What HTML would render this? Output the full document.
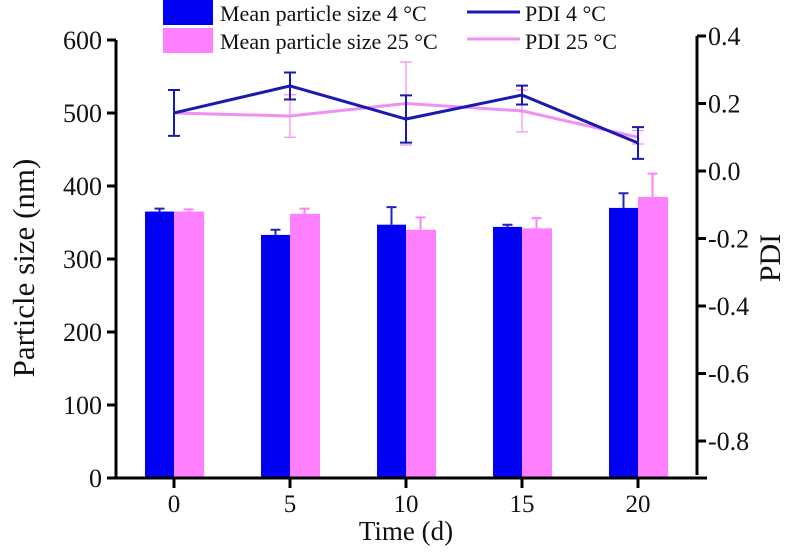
<!DOCTYPE html>
<html><head><meta charset="utf-8"><style>
body{margin:0;background:#fff}
svg text{font-family:"Liberation Serif",serif;fill:#111}
</style></head><body>
<svg id="chart" width="791" height="551" xmlns="http://www.w3.org/2000/svg"></svg>
<script>
const categories=[0,5,10,15,20];
const size4=[365,333,347,344,370];
const size4Err=[4,7,24,3,20];
const size25=[365,362,340,342,385];
const size25Err=[3,7,17,14,32];
const pdi4=[0.172,0.252,0.154,0.225,0.083];
const pdi4Err=[0.068,0.04,0.07,0.028,0.047];
const pdi25=[0.172,0.163,0.2,0.178,0.1];
const pdi25Err=[0,0.063,0.123,0.062,0.02];
const leftTicks=[0,100,200,300,400,500,600];
const rightTicks=[0.4,0.2,0.0,-0.2,-0.4,-0.6,-0.8];
const rightLabels=["0.4","0.2","0.0","-0.2","-0.4","-0.6","-0.8"];

const svg=document.getElementById('chart');
const NS='http://www.w3.org/2000/svg';
function mk(t,a,parent){const e=document.createElementNS(NS,t);for(const k in a)e.setAttribute(k,a[k]);(parent||svg).appendChild(e);return e;}
const xS=v=>174+v*116/5;
const yL=v=>478-v*0.73;
const yR=v=>171-v*337.5;
const BW=29;

categories.forEach((c,i)=>{
  const x=xS(c);
  let b=mk('rect',{x:x-BW,y:yL(size4[i]),width:BW,height:478-yL(size4[i]),fill:'#0000f5'});
  
  
  let e=mk('path',{d:`M${x-BW/2} ${yL(size4[i])}V${yL(size4[i]+size4Err[i])}M${x-BW/2-5} ${yL(size4[i]+size4Err[i])}h10`,stroke:'#2020c0','stroke-width':2,fill:'none'});
  
  
  let p=mk('rect',{x:x,y:yL(size25[i]),width:BW+1,height:478-yL(size25[i]),fill:'#ff80ff'});
  
  
  let e2=mk('path',{d:`M${x+BW/2} ${yL(size25[i])}V${yL(size25[i]+size25Err[i])}M${x+BW/2-5} ${yL(size25[i]+size25Err[i])}h10`,stroke:'#ff80ff','stroke-width':2,fill:'none'});
  
  
});

function line(vals,errs,color,name,ew){
  categories.forEach((c,i)=>{
    if(!errs[i])return;
    const x=xS(c),t=yR(vals[i]+errs[i]),b=yR(vals[i]-errs[i]);
    let e=mk('path',{d:`M${x} ${t}V${b}M${x-6} ${t}h12M${x-6} ${b}h12`,stroke:color,'stroke-width':ew,fill:'none'});
    
    
  });
  let l=mk('polyline',{points:categories.map((c,i)=>xS(c)+','+yR(vals[i])).join(' '),stroke:color,'stroke-width':3,fill:'none'});
  
  
}
line(pdi25,pdi25Err,'#f090f0','pdi-25c',1.2);
line(pdi4,pdi4Err,'#1a1ab0','pdi-4c',2);

let ax=mk('path',{d:'M116 40V478H707',stroke:'#000','stroke-width':3,fill:'none'});


let ar=mk('path',{d:'M697 36V475',stroke:'#000','stroke-width':3,fill:'none'});


leftTicks.forEach(v=>{
  const y=yL(v);
  let t=mk('path',{d:`M107 ${y}H116`,stroke:'#000','stroke-width':3});
  
  
  let tx=mk('text',{x:102,y:y+9,'text-anchor':'end','font-size':26});
  tx.textContent=v;
  
  
});
rightTicks.forEach((v,i)=>{
  const y=yR(v);
  let t=mk('path',{d:`M697 ${y}H706`,stroke:'#000','stroke-width':3});
  
  
  let tx=mk('text',{x:708,y:y+9,'font-size':26});
  tx.textContent=rightLabels[i];
  
  
});
categories.forEach(c=>{
  const x=xS(c);
  let t=mk('path',{d:`M${x} 478V488`,stroke:'#000','stroke-width':3});
  
  
  let tx=mk('text',{x:x,y:512,'text-anchor':'middle','font-size':25});
  tx.textContent=c;
  
  
});
</script>
<svg style="position:absolute;left:0;top:0" width="791" height="551" xmlns="http://www.w3.org/2000/svg">
<text x="0" y="0" font-size="31" text-anchor="middle" transform="translate(34,268) rotate(-90)">Particle size (nm)</text>
<text x="0" y="0" font-size="30" text-anchor="middle" transform="translate(780,258) rotate(-90)">PDI</text>
<text x="406" y="540" font-size="27" text-anchor="middle">Time (d)</text>
<g>
<rect x="163" y="0" width="50" height="25" fill="#0000f5"/>
<text x="220" y="21" font-size="22">Mean particle size 4 °C</text>
<rect x="163" y="28" width="50" height="25" fill="#ff80ff"/>
<text x="220" y="49" font-size="22">Mean particle size 25 °C</text>
<line x1="467" y1="12" x2="520" y2="12" stroke="#1a1ab0" stroke-width="3"/>
<text x="525" y="21" font-size="22">PDI 4 °C</text>
<line x1="467" y1="39" x2="520" y2="39" stroke="#f090f0" stroke-width="3"/>
<text x="525" y="49" font-size="22">PDI 25 °C</text>
</g>
</svg>
</body></html>
